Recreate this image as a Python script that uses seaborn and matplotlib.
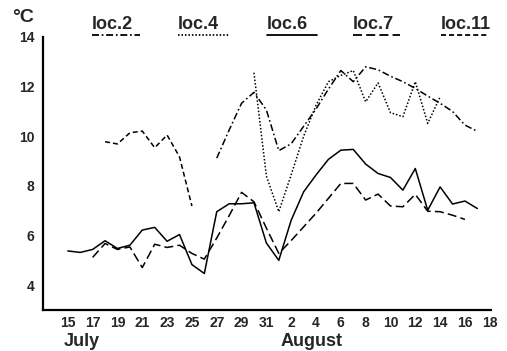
import matplotlib
matplotlib.use("Agg")
import matplotlib.pyplot as plt
from matplotlib.lines import Line2D
import pandas as pd
import seaborn as sns

# Day index: 0 = 15 July ... 16 = 31 July, 17 = 1 August ... 34 = 18 August
loc2_start = 12
loc2_temp = [9.12, 10.25, 11.33, 11.77, 11.06,
             9.42, 9.70, 10.40, 11.10, 11.90, 12.65, 12.20, 12.80, 12.68,
             12.42, 12.20, 11.93, 11.62, 11.33, 11.00, 10.45, 10.20]

loc4_start = 15
loc4_temp = [12.56, 8.40,
             6.96, 8.45, 10.00, 11.25, 12.20, 12.45, 12.65, 11.39, 12.15,
             10.95, 10.79, 12.20, 10.52, 11.59]

loc6_start = 0
loc6_temp = [5.38, 5.32, 5.44, 5.79, 5.48, 5.61, 6.22, 6.33, 5.77, 6.04,
             4.83, 4.47, 6.96, 7.28, 7.28, 7.32, 5.70,
             5.00, 6.62, 7.76, 8.44, 9.07, 9.44, 9.47, 8.88, 8.50, 8.34,
             7.83, 8.70, 7.02, 7.96, 7.27, 7.39, 7.09]

loc7_start = 2
loc7_temp = [5.12, 5.68, 5.44, 5.54, 4.71, 5.65, 5.52, 5.61, 5.28, 5.05,
             5.90, 6.80, 7.74, 7.36, 6.30,
             5.28, 5.80, 6.35, 6.90, 7.50, 8.10, 8.10, 7.43, 7.67, 7.19,
             7.16, 7.66, 6.98, 6.96, 6.82, 6.65]

loc11_start = 3
loc11_temp = [9.78, 9.69, 10.14, 10.21, 9.54, 10.05, 9.17, 7.19]

locations = ["loc.2", "loc.4", "loc.6", "loc.7", "loc.11"]
series = {
    "loc.2": (loc2_start, loc2_temp),
    "loc.4": (loc4_start, loc4_temp),
    "loc.6": (loc6_start, loc6_temp),
    "loc.7": (loc7_start, loc7_temp),
    "loc.11": (loc11_start, loc11_temp),
}

tick_days = [0, 2, 4, 6, 8, 10, 12, 14, 16, 18, 20, 22, 24, 26, 28, 30, 32, 34]
tick_labels = ["15", "17", "19", "21", "23", "25", "27", "29", "31",
               "2", "4", "6", "8", "10", "12", "14", "16", "18"]
y_ticks = [4, 6, 8, 10, 12, 14]

rows = []
for name, (start, temps) in series.items():
    for i, t in enumerate(temps):
        rows.append({"loc": name, "day": start + i, "temp": t})
df = pd.DataFrame(rows)

sns.set_style("white")
plt.rcParams["font.family"] = ["Liberation Sans", "DejaVu Sans"]
plt.rcParams["font.weight"] = "bold"
plt.rcParams["lines.scale_dashes"] = False

line_dashes = {
    "loc.2": (5.0, 2.0, 1.2, 2.0),
    "loc.4": (1.1, 1.4),
    "loc.6": "",
    "loc.7": (6.5, 3.0),
    "loc.11": (3.6, 2.2),
}
palette = {name: "black" for name in locations}

W, H = 507, 351
fig = plt.figure(figsize=(W / 100, H / 100), dpi=100)
ax = fig.add_axes([43 / W, 41 / H, 448 / W, 273 / H])

sns.lineplot(data=df, x="day", y="temp", hue="loc", style="loc",
             hue_order=locations, style_order=locations,
             palette=palette, dashes=line_dashes, linewidth=1.1,
             errorbar=None, legend=False, ax=ax)

ax.set_xlim(-2.0, 34.1)
ax.set_ylim(3, 14)
ax.set_xticks(tick_days)
ax.set_xticklabels(tick_labels, fontsize=10, fontweight="bold")
ax.set_yticks(y_ticks)
ax.set_yticklabels([str(v) for v in y_ticks], fontsize=10, fontweight="bold")
ax.tick_params(axis="x", length=0, pad=4)
ax.tick_params(axis="y", length=4, width=1.2, pad=2, direction="out", color="black")
ax.set_xlabel("")
ax.set_ylabel("")
for side in ("top", "right"):
    ax.spines[side].set_visible(False)
for side in ("left", "bottom"):
    ax.spines[side].set_color("black")
    ax.spines[side].set_linewidth(1.6)


def fx(px):
    return px / W


def fy(py):
    return 1 - py / H


fig.text(fx(12), fy(22), "°C", fontsize=14, fontweight="bold", va="baseline", ha="left")
fig.text(fx(82), fy(346), "July", fontsize=13, fontweight="bold", va="baseline", ha="center")
fig.text(fx(312), fy(346), "August", fontsize=13, fontweight="bold", va="baseline", ha="center")

# key: label with a line sample beneath it
key_pos = {
    "loc.2": (92, 140),
    "loc.4": (178, 230),
    "loc.6": (267, 317),
    "loc.7": (353, 400),
    "loc.11": (441, 488),
}
for name in locations:
    x0, x1 = key_pos[name]
    fig.text(fx(x0), fy(29), name, fontsize=13, fontweight="bold",
             va="baseline", ha="left")
    ln = Line2D([fx(x0), fx(x1)], [fy(34.5), fy(34.5)], transform=fig.transFigure,
                color="black", linewidth=1.3)
    if line_dashes[name]:
        ln.set_dashes(line_dashes[name])
    fig.add_artist(ln)

fig.savefig("out.png", dpi=100)
